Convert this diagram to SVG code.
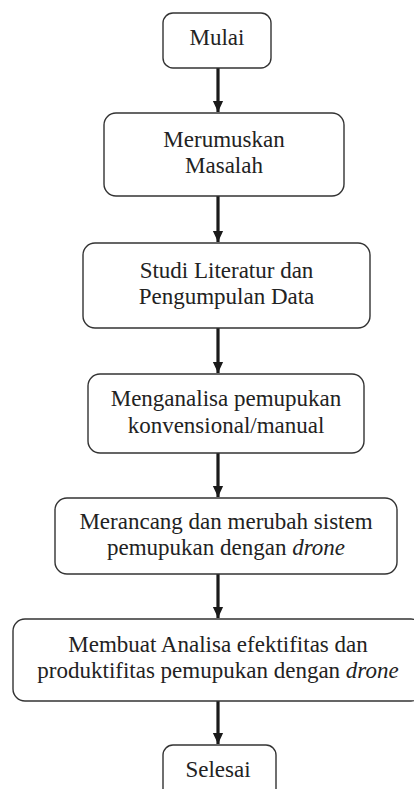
<svg xmlns="http://www.w3.org/2000/svg" width="414" height="789" viewBox="0 0 414 789">
<defs>
<style>
.box{fill:#fff;stroke:#333;stroke-width:1.4}
.t{font-size:23px;fill:#222;text-anchor:middle}
.c{stroke:#1a1a1a;stroke-width:3.2;fill:none}
.h{fill:#1a1a1a}
</style>
<marker id="ah" markerWidth="4" markerHeight="4" refX="3.4" refY="2" orient="auto" markerUnits="strokeWidth" viewBox="0 0 4 4">
<path d="M0,0.4 L3.4,2 L0,3.6 Z" class="h"/>
</marker>
</defs>
<rect width="414" height="789" fill="#fff"/>
<g id="connectors">
<line class="c" x1="218" y1="68" x2="218" y2="112" marker-end="url(#ah)"/>
<line class="c" x1="218" y1="196" x2="218" y2="242" marker-end="url(#ah)"/>
<line class="c" x1="218" y1="328" x2="218" y2="373" marker-end="url(#ah)"/>
<line class="c" x1="218" y1="453" x2="218" y2="497" marker-end="url(#ah)"/>
<line class="c" x1="218" y1="574" x2="218" y2="618" marker-end="url(#ah)"/>
<line class="c" x1="218" y1="701" x2="218" y2="744" marker-end="url(#ah)"/>
</g>
<g font-family="Liberation Serif, serif">
<g id="mulai">
<rect class="box" x="163" y="13" width="108" height="55" rx="10"/>
<text class="t" x="217" y="45">Mulai</text>
</g>
<g id="merumuskan">
<rect class="box" x="104" y="113" width="240" height="83" rx="12"/>
<text class="t" x="224" y="147">Merumuskan</text>
<text class="t" x="224" y="173">Masalah</text>
</g>
<g id="studi">
<rect class="box" x="83" y="243" width="287" height="85" rx="12"/>
<text class="t" x="226.5" y="278">Studi Literatur dan</text>
<text class="t" x="226.5" y="304">Pengumpulan Data</text>
</g>
<g id="menganalisa">
<rect class="box" x="88" y="374" width="276" height="79" rx="12"/>
<text class="t" x="226" y="406">Menganalisa pemupukan</text>
<text class="t" x="226" y="433">konvensional/manual</text>
</g>
<g id="merancang">
<rect class="box" x="55" y="498" width="342" height="76" rx="12"/>
<text class="t" x="226" y="529">Merancang dan merubah sistem</text>
<text class="t" x="226" y="555">pemupukan dengan <tspan font-style="italic">drone</tspan></text>
</g>
<g id="membuat">
<rect class="box" x="13" y="619" width="410" height="82" rx="12"/>
<text class="t" x="218" y="652">Membuat Analisa efektifitas dan</text>
<text class="t" x="218" y="678">produktifitas pemupukan dengan <tspan font-style="italic">drone</tspan></text>
</g>
<g id="selesai">
<rect class="box" x="163" y="745" width="113" height="60" rx="10"/>
<text class="t" x="218" y="777">Selesai</text>
</g>
</g>
</svg>
